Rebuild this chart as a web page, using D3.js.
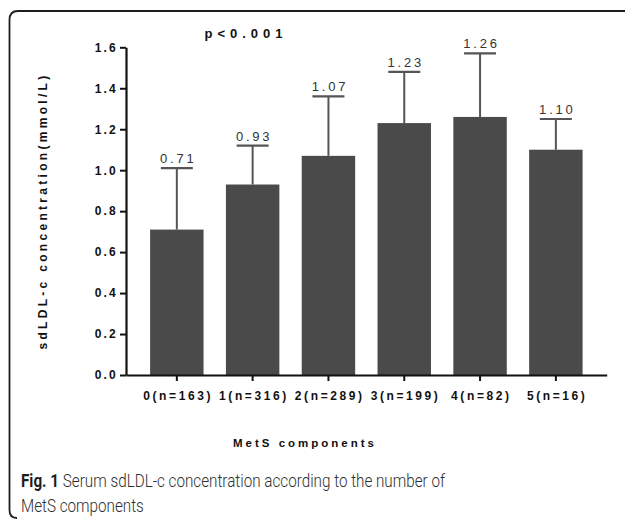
<!DOCTYPE html>
<html>
<head>
<meta charset="utf-8">
<script src="https://cdn.jsdelivr.net/npm/d3@7"></script>
<style>
  html, body { margin: 0; padding: 0; background: #fff; }
  svg { display: block; }
</style>
</head>
<body>
<svg id="chart" width="627" height="520"></svg>
<script>
// ---- data ----
const categories = ["0(n=163)", "1(n=316)", "2(n=289)", "3(n=199)", "4(n=82)", "5(n=16)"];
const means = [0.71, 0.93, 1.07, 1.23, 1.26, 1.10];
const sds = [0.30, 0.19, 0.29, 0.25, 0.31, 0.15];
const valueLabels = ["0.71", "0.93", "1.07", "1.23", "1.26", "1.10"];
const yTicks = [0.0, 0.2, 0.4, 0.6, 0.8, 1.0, 1.2, 1.4, 1.6];
const yTitle = "sdLDL-c concentration(mmol/L)";
const xTitle = "MetS components";
const pText = "p<0.001";
const captionBold = "Fig. 1";
const captionLine1 = "Serum sdLDL-c concentration according to the number of";
const captionLine2 = "MetS components";

const svg = d3.select("#chart");
const AX = "'Liberation Sans', Arial, sans-serif";

// frame
svg.append("path")
  .attr("d", "M625,11 L18,11 Q9.5,11 9.5,20 L9.5,510 Q9.5,518 17,518")
  .attr("fill", "none").attr("stroke", "#1e1e1e").attr("stroke-width", 1.8);

const x = d3.scaleBand().domain(categories).range([126, 606.7]).paddingInner(0.295).paddingOuter(0.318);
const y = d3.scaleLinear().domain([0, 1.6]).range([375, 47.3]);

const g = svg.append("g");

// bars
g.selectAll("rect.bar").data(categories).join("rect")
  .attr("class", "bar")
  .attr("x", d => x(d))
  .attr("width", x.bandwidth())
  .attr("y", (d, i) => y(means[i]))
  .attr("height", (d, i) => y(0) - y(means[i]))
  .attr("fill", "#4a4a4a");

// error bars
const capW = 32;
categories.forEach((c, i) => {
  const cx = x(c) + x.bandwidth() / 2;
  g.append("line").attr("x1", cx).attr("x2", cx)
    .attr("y1", y(means[i])).attr("y2", y(means[i] + sds[i]))
    .attr("stroke", "#555").attr("stroke-width", 2);
  g.append("line").attr("x1", cx - capW / 2).attr("x2", cx + capW / 2)
    .attr("y1", y(means[i] + sds[i])).attr("y2", y(means[i] + sds[i]))
    .attr("stroke", "#555").attr("stroke-width", 2.2);
  g.append("text").attr("x", cx + 1.5).attr("y", y(means[i] + sds[i]) - 5)
    .attr("text-anchor", "middle")
    .attr("font-family", AX).attr("font-size", 13)
    .style("letter-spacing", "2.8px")
    .attr("fill", "#333").text(valueLabels[i]);
});

// y axis
const yAxis = d3.axisLeft(y).tickValues(yTicks).tickFormat(d3.format(".1f")).tickSize(6).tickSizeOuter(0);
const ya = svg.append("g").attr("transform", "translate(126,0)").call(yAxis);
ya.select(".domain").attr("stroke", "#111").attr("stroke-width", 2.2);
ya.selectAll(".tick line").attr("stroke", "#111").attr("stroke-width", 2);
ya.selectAll(".tick text")
  .attr("font-family", AX).attr("font-size", 12).attr("font-weight", "bold")
  .attr("fill", "#111").attr("x", -8).style("letter-spacing", "2.2px");

// x axis
const xAxis = d3.axisBottom(x).tickSize(6).tickSizeOuter(0);
const xa = svg.append("g").attr("transform", "translate(0,375)").call(xAxis);
xa.select(".domain").attr("stroke", "#111").attr("stroke-width", 2.2);
xa.selectAll(".tick line").attr("stroke", "#111").attr("stroke-width", 2);
xa.selectAll(".tick text")
  .attr("font-family", AX).attr("font-size", 12).attr("font-weight", "bold")
  .attr("fill", "#111").attr("y", 16).attr("dx", "1.3px").style("letter-spacing", "2.6px");

// y title
svg.append("text")
  .attr("transform", "translate(47,211) rotate(-90)")
  .attr("text-anchor", "middle")
  .attr("font-family", AX).attr("font-size", 12).attr("font-weight", "bold")
  .style("letter-spacing", "3.3px")
  .attr("fill", "#111").text(yTitle);

// x title
svg.append("text")
  .attr("x", 305).attr("y", 447).attr("text-anchor", "middle")
  .attr("font-family", AX).attr("font-size", 11.5).attr("font-weight", "bold")
  .style("letter-spacing", "3px")
  .attr("fill", "#111").text(xTitle);

// p value
svg.append("text")
  .attr("x", 246).attr("y", 38).attr("text-anchor", "middle")
  .attr("font-family", AX).attr("font-size", 13).attr("font-weight", "bold")
  .style("letter-spacing", "5px")
  .attr("fill", "#111").text(pText);

// caption (condensed look: real text, horizontally fitted)
const CF = "Roboto, 'Noto Sans', sans-serif";
const CS = 17.5;
const x0 = 21, targetW = 424;
const capB = svg.append("text").attr("x", x0).attr("y", 487)
  .attr("font-family", CF).attr("font-size", CS).attr("font-weight", "bold").attr("fill", "#1e1e1e").text(captionBold);
const capR = svg.append("text").attr("y", 487)
  .attr("font-family", CF).attr("font-size", CS).attr("font-weight", 300).attr("fill", "#2e2e2e").text(captionLine1);
const cap2 = svg.append("text").attr("x", x0).attr("y", 512)
  .attr("font-family", CF).attr("font-size", CS).attr("font-weight", 300).attr("fill", "#2e2e2e").text(captionLine2);
const wb = capB.node().getComputedTextLength();
const wr = capR.node().getComputedTextLength();
const w2 = cap2.node().getComputedTextLength();
const gap = CS * 0.25;
const k = targetW / (wb + gap + wr);
capB.attr("textLength", wb * k).attr("lengthAdjust", "spacingAndGlyphs");
capR.attr("x", x0 + (wb + gap) * k).attr("textLength", wr * k).attr("lengthAdjust", "spacingAndGlyphs");
cap2.attr("textLength", w2 * k).attr("lengthAdjust", "spacingAndGlyphs");
</script>
</body>
</html>
